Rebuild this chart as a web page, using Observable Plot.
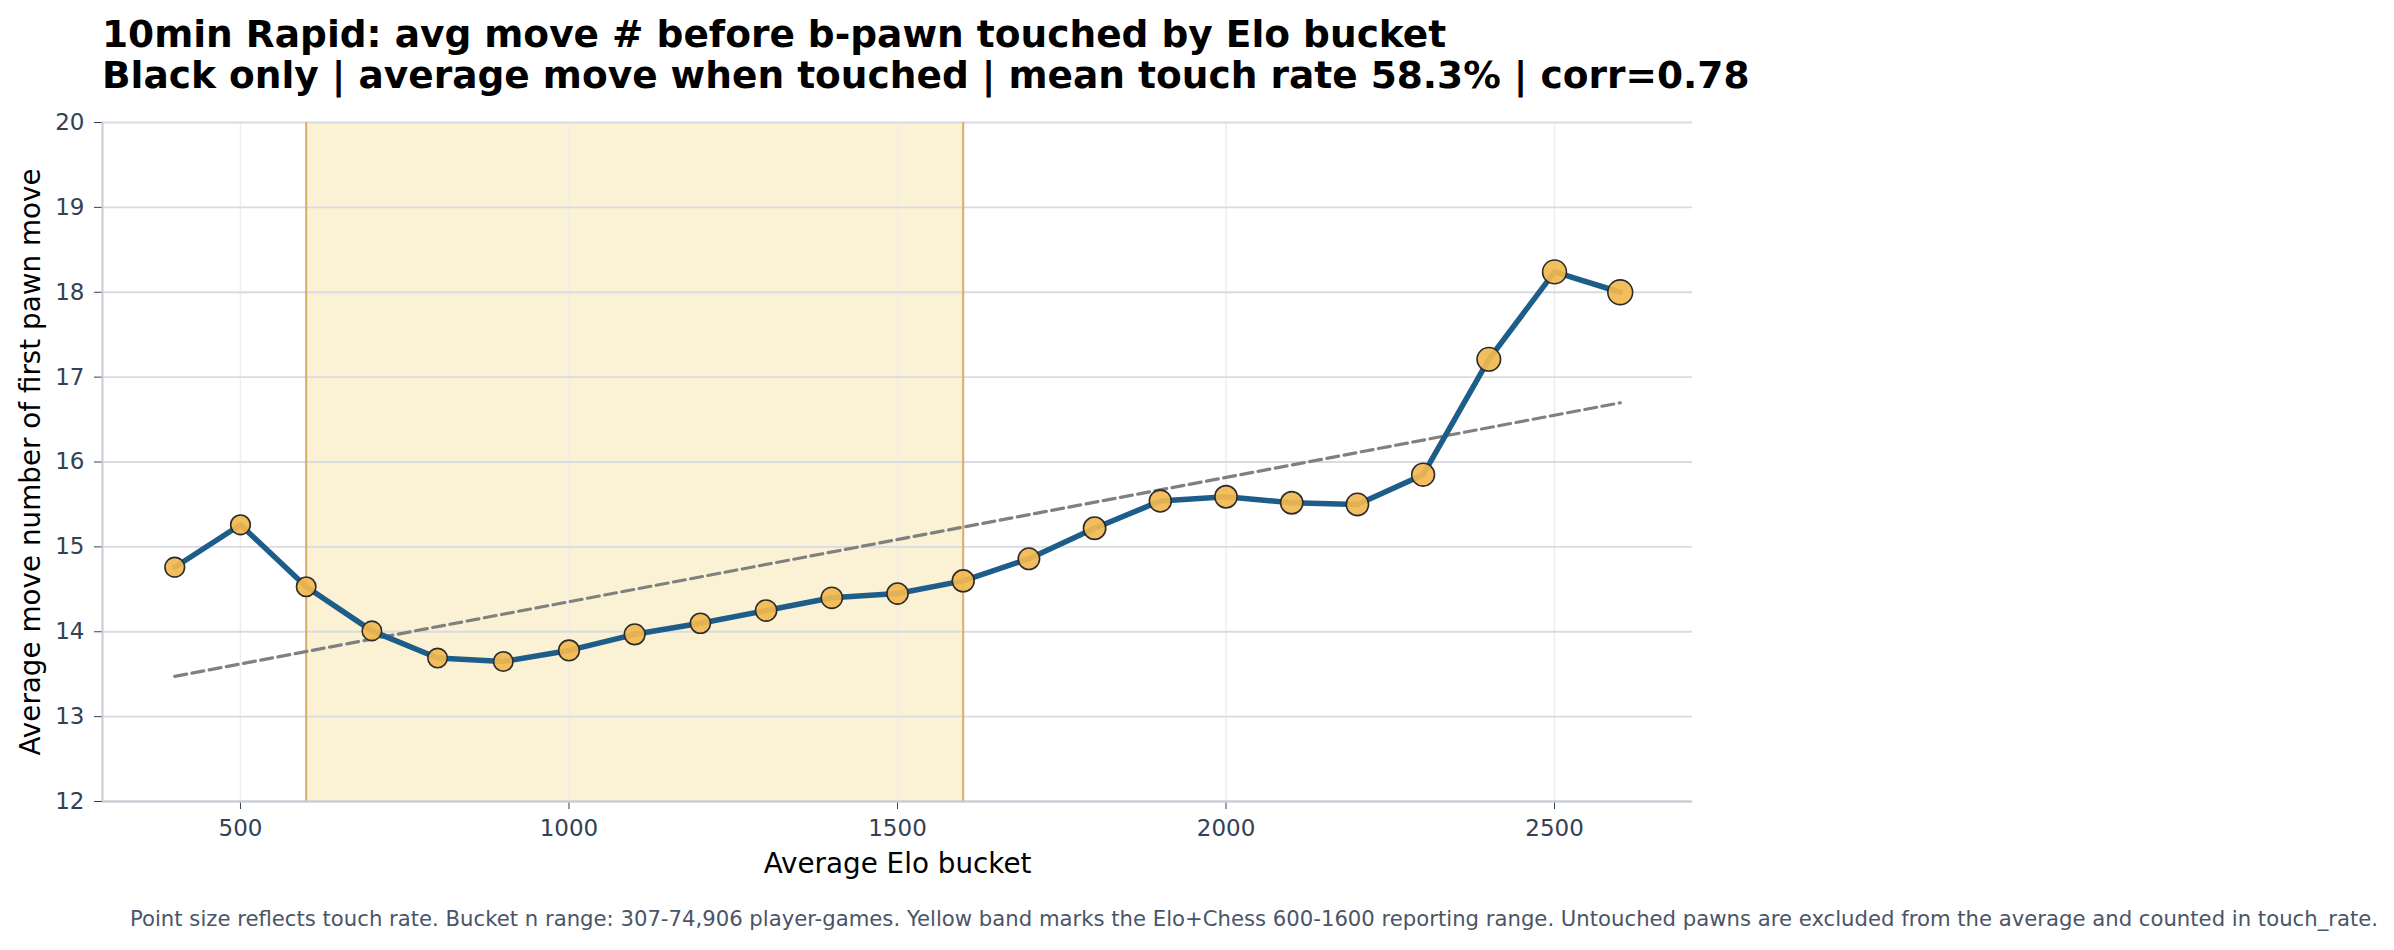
<!DOCTYPE html>
<html>
<head>
<meta charset="utf-8">
<script src="https://cdn.jsdelivr.net/npm/d3@7"></script>
<script src="https://cdn.jsdelivr.net/npm/@observablehq/plot@0.6"></script>
<style>
  html, body { margin: 0; padding: 0; background: #fff; }
  #page { position: relative; width: 2394px; height: 950px; overflow: hidden; background: #fff; font-family: "DejaVu Sans", sans-serif; }
  #title { position: absolute; left: 102px; top: 14.4px; font-size: 37.5px; line-height: 40.6px; font-weight: bold; color: #000; white-space: nowrap; }
  #chart { position: absolute; left: 0; top: 100px; }
  #caption { position: absolute; left: 130px; top: 907.2px; font-size: 21.2px; line-height: 24px; color: #4a5568; white-space: nowrap; }
</style>
</head>
<body>
<div id="page">
  <div id="title">10min Rapid: avg move # before b-pawn touched by Elo bucket<br>Black only | average move when touched | mean touch rate 58.3% | corr=0.78</div>
  <div id="chart"></div>
  <div id="caption">Point size reflects touch rate. Bucket n range: 307-74,906 player-games. Yellow band marks the Elo+Chess 600-1600 reporting range. Untouched pawns are excluded from the average and counted in touch_rate.</div>
</div>
<script>
// ---- data ----
const eloBuckets = [400, 500, 600, 700, 800, 900, 1000, 1100, 1200, 1300, 1400, 1500, 1600, 1700, 1800, 1900, 2000, 2100, 2200, 2300, 2400, 2500, 2600];
const avgMove = [14.76, 15.26, 14.53, 14.01, 13.69, 13.65, 13.78, 13.97, 14.10, 14.25, 14.40, 14.45, 14.60, 14.86, 15.22, 15.54, 15.59, 15.52, 15.50, 15.85, 17.21, 18.24, 18.00];
const touchRate = [0.49, 0.49, 0.48, 0.48, 0.48, 0.48, 0.54, 0.54, 0.51, 0.57, 0.57, 0.57, 0.61, 0.58, 0.63, 0.61, 0.63, 0.63, 0.63, 0.66, 0.70, 0.72, 0.78];
const bandRange = [600, 1600];
const xTicks = [500, 1000, 1500, 2000, 2500];
const yTicks = [12, 13, 14, 15, 16, 17, 18, 19, 20];
const xLabel = "Average Elo bucket";
const yLabel = "Average move number of first pawn move";

const data = eloBuckets.map((e, i) => ({elo: e, move: avgMove[i], rate: touchRate[i]}));
const band = [{x1: bandRange[0], x2: bandRange[1]}];

const chart = Plot.plot({
  width: 2394,
  height: 790,
  marginTop: 22,
  marginBottom: 89,
  marginLeft: 102,
  marginRight: 702,
  style: {fontFamily: "DejaVu Sans, sans-serif", fontSize: "23px", color: "#334155", background: "transparent", overflow: "visible"},
  x: {domain: [290, 2710], ticks: xTicks, tickFormat: "d", tickSize: 8, tickPadding: 10, label: null},
  y: {domain: [12, 20], ticks: yTicks, tickFormat: "d", tickSize: 8, tickPadding: 10, label: null},
  r: {type: "sqrt", domain: [0, 0.78], range: [0, 12.4]},
  marks: [
    Plot.rect(band, {x1: "x1", x2: "x2", fill: "#fbf1d4"}),
    Plot.ruleX(xTicks, {stroke: "#eceef2", strokeWidth: 1.5}),
    Plot.ruleY(yTicks, {stroke: "#d8dce2", strokeWidth: 1.8}),
    Plot.ruleX(bandRange, {stroke: "#dcaa68", strokeWidth: 2}),
    Plot.ruleX([290], {stroke: "#c8ccd2", strokeWidth: 2}),
    Plot.ruleY([12], {stroke: "#c8ccd2", strokeWidth: 2}),
    Plot.linearRegressionY(data, {x: "elo", y: "move", stroke: "#808080", strokeWidth: 3.2, strokeDasharray: "12,5.5", ci: 0}),
    Plot.line(data, {x: "elo", y: "move", stroke: "#1d5d8a", strokeWidth: 5.5, strokeLinejoin: "round"}),
    Plot.dot(data, {x: "elo", y: "move", r: "rate", fill: "#f2b84f", fillOpacity: 0.92, stroke: "#2b2b2b", strokeWidth: 1.6}),
    Plot.text([xLabel], {frameAnchor: "bottom", text: d => d, textAnchor: "middle", lineAnchor: "top", dy: 52, fontSize: 27.8, fill: "#000"}),
    Plot.text([yLabel], {frameAnchor: "left", text: d => d, textAnchor: "middle", rotate: -90, lineAnchor: "middle", dx: -71, fontSize: 27.8, fill: "#000"})
  ]
});
document.getElementById("chart").appendChild(chart);
</script>
</body>
</html>
